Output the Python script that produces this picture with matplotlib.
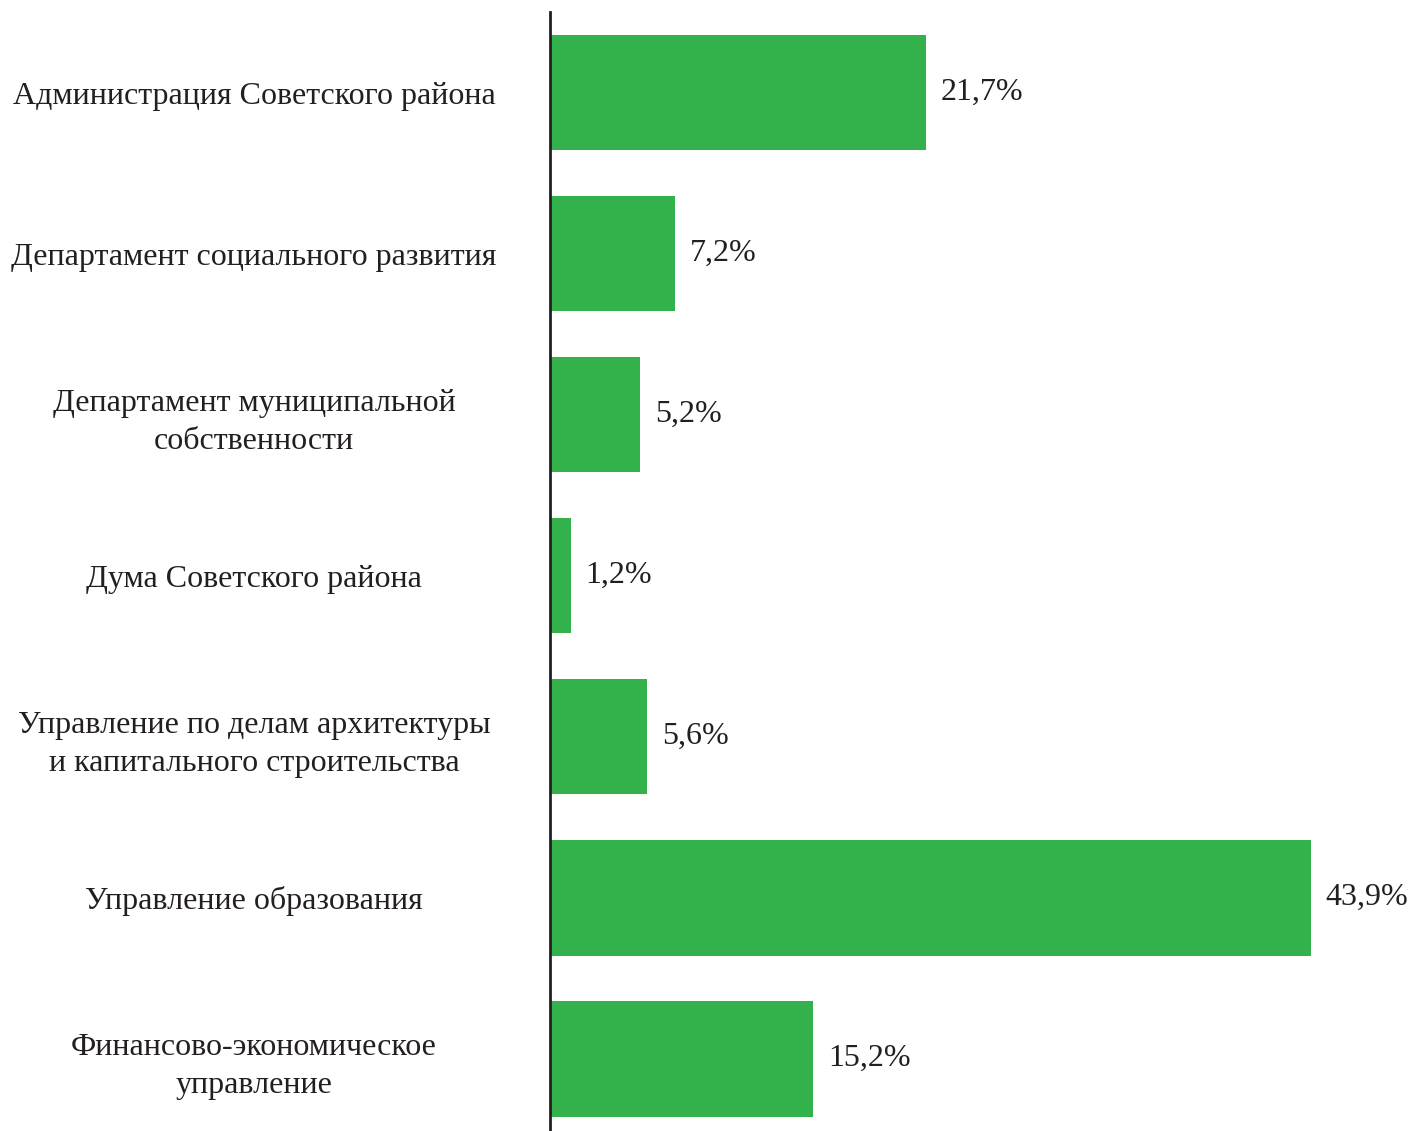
import matplotlib.pyplot as plt

plt.rcParams['font.family'] = ['Liberation Serif', 'DejaVu Serif']

categories = [
    'Администрация Советского района',
    'Департамент социального развития',
    'Департамент муниципальной\nсобственности',
    'Дума Советского района',
    'Управление по делам архитектуры\nи капитального строительства',
    'Управление образования',
    'Финансово-экономическое\nуправление',
]
shares = [21.7, 7.2, 5.2, 1.2, 5.6, 43.9, 15.2]
value_labels = ['21,7%', '7,2%', '5,2%', '1,2%', '5,6%', '43,9%', '15,2%']

fig = plt.figure(figsize=(14.10, 11.31), dpi=100)
ax = fig.add_axes([550 / 1410, 0, 860 / 1410, 1 - 12 / 1131])

y = range(len(categories))
ax.barh(y, shares, height=0.72, color='#33b14b')

for yi, v, lab in zip(y, shares, value_labels):
    ax.text(v + 0.85, yi, lab, va='center', ha='left', fontsize=23, color='#231f20')

ax.set_xlim(0, 860 / 17.33)
ax.set_ylim(6.45, -0.5)

ax.set_yticks(list(y))
ax.set_yticklabels(categories, fontsize=23, color='#231f20', ha='center',
                   multialignment='center', linespacing=1.4)
ax.tick_params(axis='y', length=0, pad=213)
ax.set_xticks([])

for s in ['top', 'right', 'bottom']:
    ax.spines[s].set_visible(False)
ax.spines['left'].set_linewidth(2)
ax.spines['left'].set_color('#231f20')

fig.savefig('out.png', dpi=100)
